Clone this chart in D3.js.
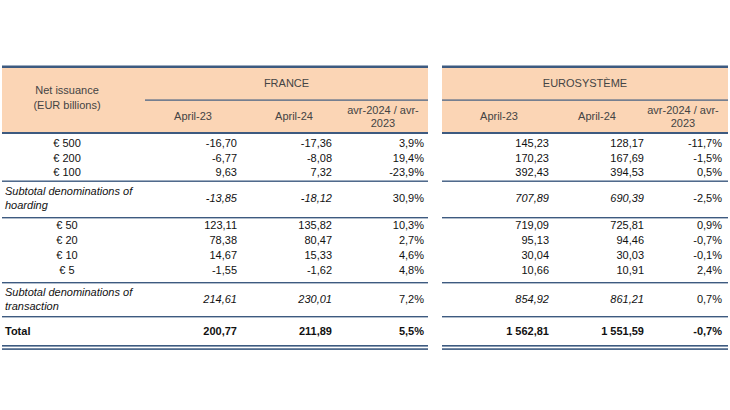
<!DOCTYPE html>
<html><head><meta charset="utf-8">
<script src="https://cdn.jsdelivr.net/npm/d3@7"></script>
<style>body{margin:0;background:#fff}text{font-family:"Liberation Sans",Arial,sans-serif;font-size:11px;fill:#111}</style>
</head><body><div id="chart"></div>
<script>
const labels = ["€ 500", "€ 200", "€ 100", "Subtotal denominations of|hoarding", "€ 50", "€ 20", "€ 10", "€ 5", "Subtotal denominations of|transaction", "Total"];
const kinds = ["row", "row", "row", "sub", "row", "row", "row", "row", "sub", "total"];
const franceApr23 = ["-16,70", "-6,77", "9,63", "-13,85", "123,11", "78,38", "14,67", "-1,55", "214,61", "200,77"];
const franceApr24 = ["-17,36", "-8,08", "7,32", "-18,12", "135,82", "80,47", "15,33", "-1,62", "230,01", "211,89"];
const franceChg = ["3,9%", "19,4%", "-23,9%", "30,9%", "10,3%", "2,7%", "4,6%", "4,8%", "7,2%", "5,5%"];
const euroApr23 = ["145,23", "170,23", "392,43", "707,89", "719,09", "95,13", "30,04", "10,66", "854,92", "1 562,81"];
const euroApr24 = ["128,17", "167,69", "394,53", "690,39", "725,81", "94,46", "30,03", "10,91", "861,21", "1 551,59"];
const euroChg = ["-11,7%", "-1,5%", "0,5%", "-2,5%", "0,9%", "-0,7%", "-0,1%", "2,4%", "0,7%", "-0,7%"];
const colHeaders = ["April-23", "April-24", "avr-2024 / avr-|2023"];

const svg = d3.select("#chart").append("svg").attr("width", 730).attr("height", 410);
const line = "#3d5a80";

// row centers
const rowH = {row: 14.6, sub: 32, total: 36};
let y = 136;
const rowY = kinds.map(k => { const h = rowH[k] + (k === "sub" || k === "total" ? 2 : 0); const c = y + h / 2; y += h; return c; });
// adjust: separators
const ys = d3.scaleLinear().domain([0, 1]).range([0, 1]);

const tables = [
  {x0: 2, x1: 428, title: "FRANCE", hx: [193, 294, 383], vx: [237, 332, 424], cols: [franceApr23, franceApr24, franceChg]},
  {x0: 442, x1: 728, title: "EUROSYSTÈME", hx: [499, 597, 683], vx: [549, 644, 722], cols: [euroApr23, euroApr24, euroChg]}
];

// header backgrounds
tables.forEach(t => {
  svg.append("rect").attr("x", t.x0).attr("y", 68).attr("width", t.x1 - t.x0).attr("height", 65).attr("fill", "#fbd5b5");
  svg.append("rect").attr("x", t.x0).attr("y", 65.5).attr("width", t.x1 - t.x0).attr("height", 2.5).attr("fill", line);
  svg.append("rect").attr("x", t.x0).attr("y", 132).attr("width", t.x1 - t.x0).attr("height", 2).attr("fill", line);
  svg.append("rect").attr("x", t.x0 === 2 ? 145 : t.x0).attr("y", 99.5).attr("width", t.x1 - (t.x0 === 2 ? 145 : t.x0)).attr("height", 1.2).attr("fill", line);
  svg.append("text").attr("x", (t.x0 === 2 ? 145 : t.x0) / 2 + t.x1 / 2).attr("y", 87).attr("text-anchor", "middle").style("fill", "#444").text(t.title);
  t.hx.forEach((hx, i) => {
    const parts = colHeaders[i].split("|");
    svg.append("text").attr("x", hx).attr("y", parts.length > 1 ? 114 : 120).attr("text-anchor", "middle").style("fill", "#444")
      .selectAll("tspan").data(parts).join("tspan").attr("x", hx).attr("dy", (d, j) => j ? 13 : 0).text(d => d);
  });
  // separators
  [180.5, 217, 282, 316].forEach(sy => svg.append("rect").attr("x", t.x0).attr("y", sy).attr("width", t.x1 - t.x0).attr("height", 1.4).attr("fill", line));
  svg.append("rect").attr("x", t.x0).attr("y", 345).attr("width", t.x1 - t.x0).attr("height", 1.6).attr("fill", line);
  svg.append("rect").attr("x", t.x0).attr("y", 348.3).attr("width", t.x1 - t.x0).attr("height", 1.6).attr("fill", line);
});
svg.append("text").attr("x", 67).attr("y", 94).attr("text-anchor", "middle").style("fill", "#444")
  .selectAll("tspan").data(["Net issuance", "(EUR billions)"]).join("tspan").attr("x", 67).attr("dy", (d, j) => j ? 15 : 0).text(d => d);

const rowCenters = [143, 158, 172, 198, 225, 240, 255, 270, 299, 331];

const rows = svg.selectAll(".row").data(labels).join("g").attr("class", "row");
rows.each(function (lab, i) {
  const g = d3.select(this);
  const k = kinds[i];
  const cy = rowCenters[i] + 4;
  const style = k === "sub" ? "italic" : "normal";
  const weight = k === "total" ? "bold" : "normal";
  if (k === "sub") {
    g.append("text").attr("x", 5).attr("y", cy - 7).style("font-style", "italic")
      .selectAll("tspan").data(lab.split("|")).join("tspan").attr("x", 5).attr("dy", (d, j) => j ? 14 : 0).text(d => d);
  } else if (k === "total") {
    g.append("text").attr("x", 5).attr("y", cy).style("font-weight", "bold").text(lab);
  } else {
    g.append("text").attr("x", 67).attr("y", cy).attr("text-anchor", "middle").text(lab);
  }
  tables.forEach(t => t.cols.forEach((col, c) => {
    g.append("text").attr("x", t.vx[c]).attr("y", cy).attr("text-anchor", "end")
      .style("font-style", c < 2 ? style : "normal").style("font-weight", weight).text(col[i]);
  }));
});
</script></body></html>
